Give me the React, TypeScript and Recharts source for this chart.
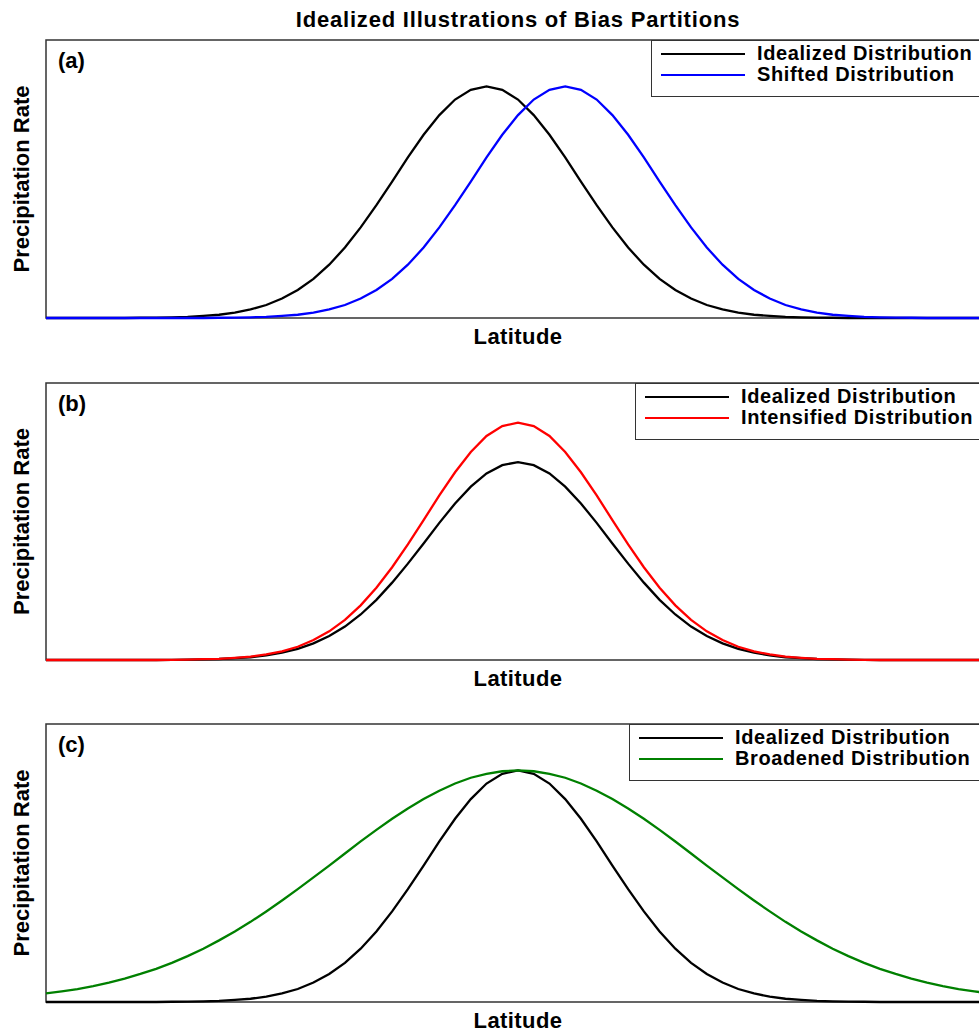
import React from "react";
import {
  LineChart,
  Line,
  XAxis,
  YAxis,
  ReferenceArea,
  Legend,
} from "recharts";

// latitude samples, every 3 degrees
const LATITUDE = [
  -90, -87, -84, -81, -78, -75, -72, -69, -66, -63, -60, -57, -54, -51, -48,
  -45, -42, -39, -36, -33, -30, -27, -24, -21, -18, -15, -12, -9, -6, -3, 0, 3,
  6, 9, 12, 15, 18, 21, 24, 27, 30, 33, 36, 39, 42, 45, 48, 51, 54, 57, 60, 63,
  66, 69, 72, 75, 78, 81, 84, 87, 90,
];

// (a) idealized, peak near -6
const A_IDEALIZED = [
  0, 0, 0, 0, 0, 0, 0.001, 0.002, 0.003, 0.005, 0.009, 0.014, 0.023, 0.037,
  0.056, 0.084, 0.121, 0.169, 0.23, 0.304, 0.391, 0.487, 0.589, 0.693, 0.791,
  0.876, 0.943, 0.985, 1.0, 0.985, 0.943, 0.876, 0.791, 0.693, 0.589, 0.487,
  0.391, 0.304, 0.23, 0.169, 0.121, 0.084, 0.056, 0.037, 0.023, 0.014, 0.009,
  0.005, 0.003, 0.002, 0.001, 0, 0, 0, 0, 0, 0, 0, 0, 0, 0,
];

// (a) shifted, peak near +9
const A_SHIFTED = [
  0, 0, 0, 0, 0, 0, 0, 0, 0, 0, 0, 0.001, 0.002, 0.003, 0.005, 0.009, 0.014,
  0.023, 0.037, 0.056, 0.084, 0.121, 0.169, 0.23, 0.304, 0.391, 0.487, 0.589,
  0.693, 0.791, 0.876, 0.943, 0.985, 1.0, 0.985, 0.943, 0.876, 0.791, 0.693,
  0.589, 0.487, 0.391, 0.304, 0.23, 0.169, 0.121, 0.084, 0.056, 0.037, 0.023,
  0.014, 0.009, 0.005, 0.003, 0.002, 0.001, 0, 0, 0, 0, 0,
];

// (b), (c) idealized, centred on the equator
const IDEALIZED = [
  0, 0, 0, 0, 0, 0, 0, 0, 0.001, 0.002, 0.003, 0.005, 0.009, 0.014, 0.023,
  0.037, 0.056, 0.084, 0.121, 0.169, 0.23, 0.304, 0.391, 0.487, 0.589, 0.693,
  0.791, 0.876, 0.943, 0.985, 1.0, 0.985, 0.943, 0.876, 0.791, 0.693, 0.589,
  0.487, 0.391, 0.304, 0.23, 0.169, 0.121, 0.084, 0.056, 0.037, 0.023, 0.014,
  0.009, 0.005, 0.003, 0.002, 0.001, 0, 0, 0, 0, 0, 0, 0, 0,
];

// (b) intensified
const B_INTENSIFIED = [
  0, 0, 0, 0, 0, 0, 0, 0, 0.001, 0.002, 0.004, 0.006, 0.011, 0.017, 0.028,
  0.044, 0.067, 0.101, 0.145, 0.203, 0.276, 0.365, 0.469, 0.584, 0.707, 0.832,
  0.949, 1.051, 1.132, 1.182, 1.2, 1.182, 1.132, 1.051, 0.949, 0.832, 0.707,
  0.584, 0.469, 0.365, 0.276, 0.203, 0.145, 0.101, 0.067, 0.044, 0.028, 0.017,
  0.011, 0.006, 0.004, 0.002, 0.001, 0, 0, 0, 0, 0, 0, 0, 0,
];

// (c) broadened
const C_BROADENED = [
  0.037, 0.046, 0.056, 0.069, 0.084, 0.101, 0.121, 0.143, 0.169, 0.198, 0.23,
  0.266, 0.304, 0.346, 0.391, 0.438, 0.487, 0.538, 0.589, 0.641, 0.693, 0.743,
  0.791, 0.835, 0.876, 0.912, 0.943, 0.968, 0.985, 0.996, 1.0, 0.996, 0.985,
  0.968, 0.943, 0.912, 0.876, 0.835, 0.791, 0.743, 0.693, 0.641, 0.589, 0.538,
  0.487, 0.438, 0.391, 0.346, 0.304, 0.266, 0.23, 0.198, 0.169, 0.143, 0.121,
  0.101, 0.084, 0.069, 0.056, 0.046, 0.037,
];

const FONT = "'Liberation Sans', Arial, Helvetica, sans-serif";

type Series = { key: string; name: string; color: string; values: number[] };

const panels: {
  tag: string;
  top: number;
  height: number;
  yMax: number;
  legendLeft: number;
  series: Series[];
}[] = [
  {
    tag: "(a)",
    top: 40,
    height: 278,
    yMax: 1.2,
    legendLeft: 651,
    series: [
      { key: "ideal", name: "Idealized Distribution", color: "#000000", values: A_IDEALIZED },
      { key: "other", name: "Shifted Distribution", color: "#0000ff", values: A_SHIFTED },
    ],
  },
  {
    tag: "(b)",
    top: 383,
    height: 277,
    yMax: 1.4,
    legendLeft: 635,
    series: [
      { key: "ideal", name: "Idealized Distribution", color: "#000000", values: IDEALIZED },
      { key: "other", name: "Intensified Distribution", color: "#ff0000", values: B_INTENSIFIED },
    ],
  },
  {
    tag: "(c)",
    top: 724,
    height: 278,
    yMax: 1.2,
    legendLeft: 629,
    series: [
      { key: "ideal", name: "Idealized Distribution", color: "#000000", values: IDEALIZED },
      { key: "other", name: "Broadened Distribution", color: "#008000", values: C_BROADENED },
    ],
  },
];

const MARGIN_TOP = 2;
const AXIS_H = 36;
const PLOT_RIGHT = 990;

const LegendBox = (props: any) => {
  const order: string[] = props.order || [];
  // keep the order the series were declared in
  const items = [...(props.payload || [])].sort(
    (a: any, b: any) => order.indexOf(a.value) - order.indexOf(b.value)
  );
  return (
    <div
      style={{
        border: "1px solid #333",
        background: "#fff",
        padding: "2px 0 11px 9px",
        fontFamily: FONT,
      }}
    >
      {items.map((e: any) => (
        <div
          key={e.value}
          style={{ display: "flex", alignItems: "center", height: 21 }}
        >
          <span
            style={{
              display: "inline-block",
              width: 84,
              borderTop: `2px solid ${e.color}`,
              marginRight: 12,
            }}
          />
          <span
            style={{
              fontSize: 20,
              fontWeight: "bold",
              letterSpacing: "0.6px",
              lineHeight: "21px",
              whiteSpace: "nowrap",
              color: "#000",
            }}
          >
            {e.value}
          </span>
        </div>
      ))}
    </div>
  );
};

const Panel = ({ p }: { p: (typeof panels)[number] }) => {
  const rows = LATITUDE.map((lat, i) => {
    const row: Record<string, number> = { lat };
    p.series.forEach((s) => (row[s.key] = s.values[i]));
    return row;
  });
  const width = 1000;
  const labelStyle = {
    fill: "#000",
    fontSize: 22,
    fontWeight: "bold",
    fontFamily: FONT,
  };
  return (
    <div style={{ position: "absolute", left: 0, top: p.top - MARGIN_TOP }}>
      <LineChart
        width={width}
        height={MARGIN_TOP + p.height + AXIS_H}
        data={rows}
        margin={{ top: MARGIN_TOP, right: width - PLOT_RIGHT, bottom: 0, left: 0 }}
      >
        <XAxis
          dataKey="lat"
          type="number"
          domain={[-90, 90]}
          tick={false}
          axisLine={false}
          tickLine={false}
          height={AXIS_H}
          label={{ value: "Latitude", position: "center", letterSpacing: "0.4px", ...labelStyle }}
        />
        <YAxis
          type="number"
          domain={[0, p.yMax]}
          tick={false}
          axisLine={false}
          tickLine={false}
          width={46}
          label={{
            value: "Precipitation Rate",
            position: "center",
            angle: -90,
            dx: -2,
            ...labelStyle,
          }}
        />
        <ReferenceArea
          x1={-90}
          x2={90}
          y1={0}
          y2={p.yMax}
          fill="none"
          stroke="#333"
          strokeWidth={1.5}
          ifOverflow="visible"
          label={{ value: p.tag, position: "insideTopLeft", offset: 12, ...labelStyle }}
        />
        {p.series.map((s) => (
          <Line
            key={s.key}
            dataKey={s.key}
            name={s.name}
            stroke={s.color}
            strokeWidth={2.3}
            dot={false}
            activeDot={false}
            type="linear"
            isAnimationActive={false}
          />
        ))}
        <Legend
          layout="vertical"
          align="center"
          verticalAlign="middle"
          content={<LegendBox order={p.series.map((s) => s.name)} />}
          wrapperStyle={{
            position: "absolute",
            left: p.legendLeft,
            top: MARGIN_TOP,
            width: PLOT_RIGHT - p.legendLeft,
            height: "auto",
          }}
        />
      </LineChart>
    </div>
  );
};

export default function App() {
  return (
    <div
      style={{
        position: "absolute",
        left: 0,
        top: 0,
        width: 979,
        height: 1035,
        overflow: "hidden",
        background: "#fff",
        fontFamily: FONT,
      }}
    >
      <div
        style={{
          position: "absolute",
          left: 46,
          width: 944,
          top: 7,
          textAlign: "center",
          fontSize: 22,
          fontWeight: "bold",
          letterSpacing: "0.8px",
          lineHeight: "26px",
          color: "#000",
        }}
      >
        Idealized Illustrations of Bias Partitions
      </div>
      {panels.map((p) => (
        <Panel key={p.tag} p={p} />
      ))}
    </div>
  );
}
